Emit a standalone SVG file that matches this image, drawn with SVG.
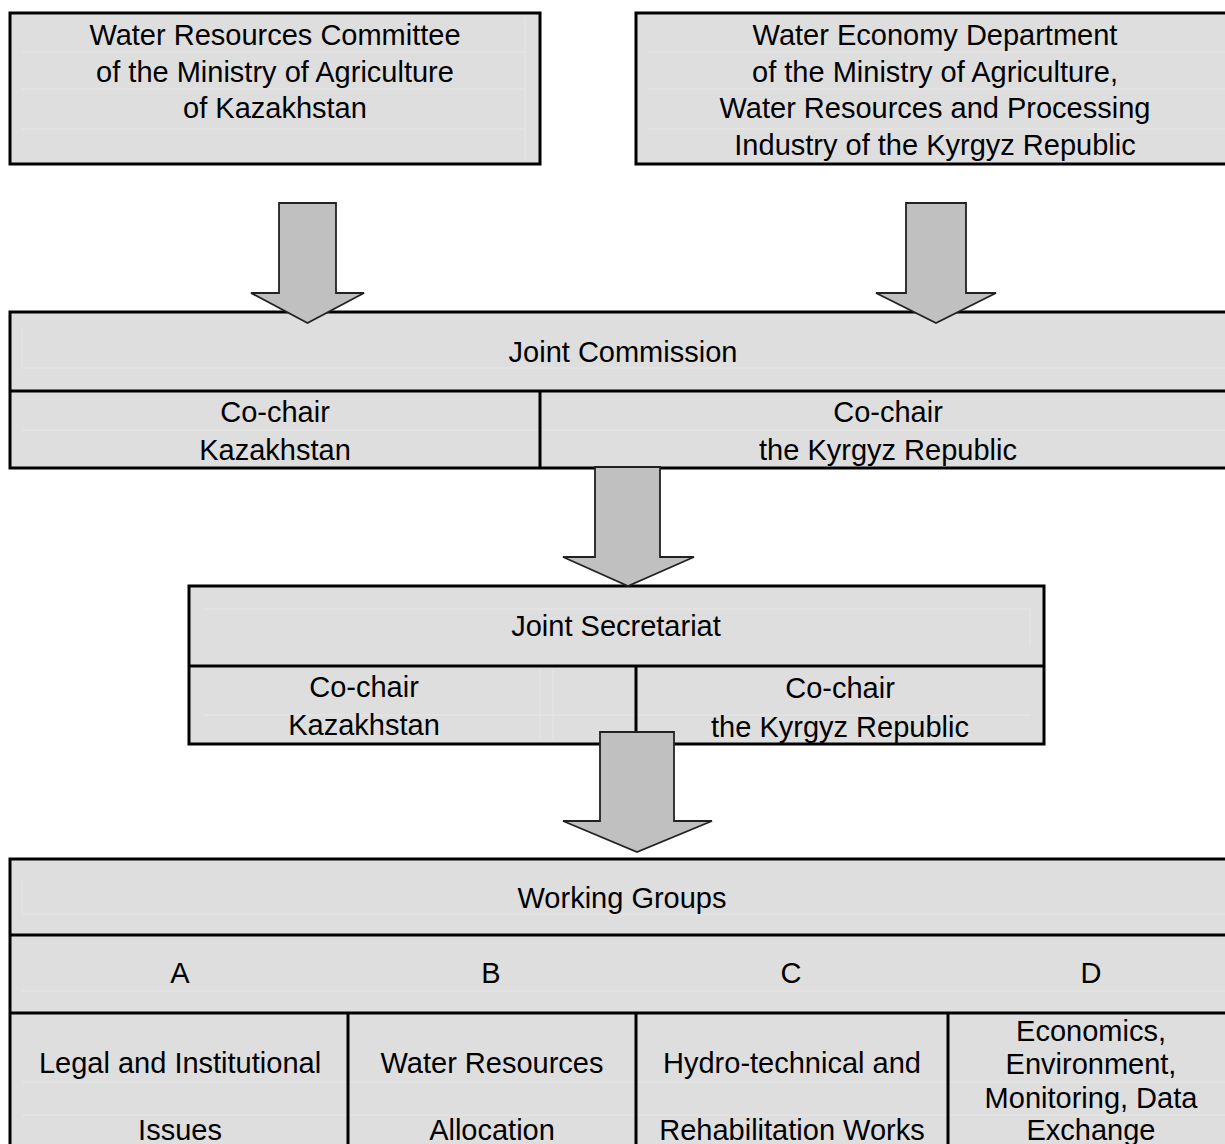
<svg xmlns="http://www.w3.org/2000/svg" width="1225" height="1144" viewBox="0 0 1225 1144">
<style>
.box{fill:#dedede;stroke:#000;stroke-width:3}
.div{stroke:#000;stroke-width:3;fill:none}
.faint{stroke:#e7e7e7;stroke-width:1;fill:none}
.arrow{fill:#c0c0c0;stroke:#222;stroke-width:1.8;stroke-linejoin:miter}
text{font-family:"Liberation Sans",Arial,sans-serif;font-size:29px;fill:#000;text-anchor:middle}
</style>
<rect width="1225" height="1144" fill="#fff"/>
<g id="kz-committee">
<rect class="box" x="10" y="13" width="530" height="151"/>
<path class="faint" d="M22 52H525M22 89H525M22 129H525M525 18V160"/>
<text x="275" y="45">Water Resources Committee</text>
<text x="275" y="82">of the Ministry of Agriculture</text>
<text x="275" y="118">of Kazakhstan</text>
</g>
<g id="kg-department">
<rect class="box" x="636" y="13" width="610" height="151"/>
<path class="faint" d="M648 52H1225M648 89H1225M648 129H1225"/>
<text x="935" y="45">Water Economy Department</text>
<text x="935" y="82">of the Ministry of Agriculture,</text>
<text x="935" y="118">Water Resources and Processing</text>
<text x="935" y="155">Industry of the Kyrgyz Republic</text>
</g>
<g id="joint-commission">
<rect class="box" x="10" y="312" width="1236" height="156"/>
<path class="faint" d="M22 368H1225M22 328V368M22 430H1225"/>
<line class="div" x1="10" y1="391" x2="1225" y2="391"/>
<line class="div" x1="540" y1="391" x2="540" y2="468"/>
<text x="623" y="362">Joint Commission</text>
<text x="275" y="422">Co-chair</text>
<text x="275" y="460">Kazakhstan</text>
<text x="888" y="422">Co-chair</text>
<text x="888" y="460">the Kyrgyz Republic</text>
</g>
<g id="joint-secretariat">
<rect class="box" x="189" y="586" width="855" height="158"/>
<path class="faint" d="M203 609H1030M1030 609V645M203 715H1030M540 670V740M553 670V740"/>
<line class="div" x1="189" y1="666" x2="1044" y2="666"/>
<line class="div" x1="636" y1="666" x2="636" y2="744"/>
<text x="616" y="636">Joint Secretariat</text>
<text x="364" y="697">Co-chair</text>
<text x="364" y="735">Kazakhstan</text>
<text x="840" y="698">Co-chair</text>
<text x="840" y="737">the Kyrgyz Republic</text>
</g>
<g id="working-groups">
<rect class="box" x="10" y="859" width="1236" height="300"/>
<path class="faint" d="M22 881V914M22 914H1225M22 991H1225M22 1082H1225M22 1115H1225"/>
<line class="div" x1="10" y1="935" x2="1225" y2="935"/>
<line class="div" x1="10" y1="1013" x2="1225" y2="1013"/>
<line class="div" x1="348" y1="1013" x2="348" y2="1144"/>
<line class="div" x1="636" y1="1013" x2="636" y2="1144"/>
<line class="div" x1="948" y1="1013" x2="948" y2="1144"/>
<text x="622" y="908">Working Groups</text>
<text x="180" y="983">A</text>
<text x="491" y="983">B</text>
<text x="791" y="983">C</text>
<text x="1091" y="983">D</text>
<text x="180" y="1073">Legal and Institutional</text>
<text x="180" y="1140">Issues</text>
<text x="492" y="1073">Water Resources</text>
<text x="492" y="1140">Allocation</text>
<text x="792" y="1073">Hydro-technical and</text>
<text x="792" y="1140">Rehabilitation Works</text>
<text x="1091" y="1041">Economics,</text>
<text x="1091" y="1074">Environment,</text>
<text x="1091" y="1108">Monitoring, Data</text>
<text x="1091" y="1140">Exchange</text>
</g>
<g id="connectors">
<polygon class="arrow" points="279,203 336,203 336,293 364,293 307.5,323 251,293 279,293"/>
<polygon class="arrow" points="906,203 966,203 966,293 996,293 936,323 876,293 906,293"/>
<polygon class="arrow" points="595,467 660,467 660,557 694,557 628,586 563,557 595,557"/>
<polygon class="arrow" points="600,732 674,732 674,821 712,821 637,852 563,821 600,821"/>
</g>
</svg>
